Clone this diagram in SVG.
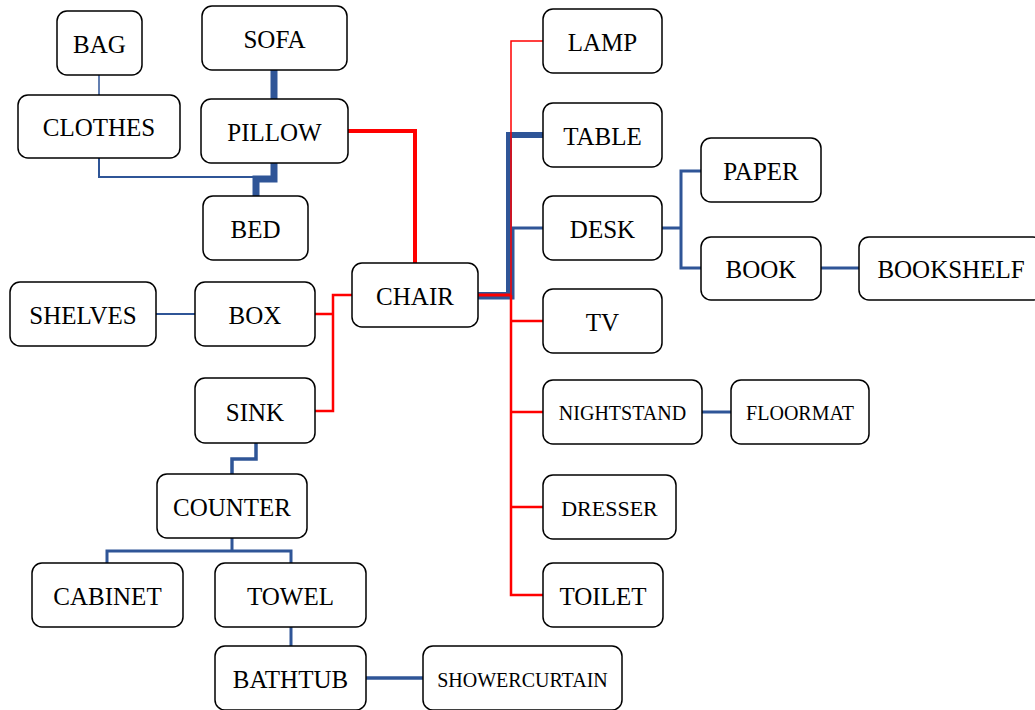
<svg xmlns="http://www.w3.org/2000/svg" width="1035" height="710" viewBox="0 0 1035 710">
  <style>
    .box { fill: #ffffff; stroke: #000000; stroke-width: 1.5; }
    .lbl { font-family: "Liberation Serif", "Times New Roman", serif; font-size: 25px; fill: #000000; text-anchor: middle; }
    .sm { font-size: 20px; }
    .md { font-size: 22px; }
    .b { fill: none; stroke: #2F5597; stroke-linejoin: miter; }
    .r { fill: none; stroke: #FF0000; stroke-linejoin: miter; }
  </style>
  <rect width="1035" height="710" fill="#ffffff"/>

  <g id="connectors">
    <!-- blue links -->
    <path class="b" stroke-width="1.5" d="M99,75 V95"/>
    <path class="b" stroke-width="7" d="M274,70 V99"/>
    <path class="b" stroke-width="2" d="M99,158 V177 H256"/>
    <path class="b" stroke-width="7" d="M274,163 V179 H256 V196"/>
    <path class="b" stroke-width="2" d="M156,314 H195"/>
    <path class="b" stroke-width="3.5" d="M256,443 V459 H232 V474"/>
    <path class="b" stroke-width="3" d="M232,538 V551 M107,563 V551 H291 V563"/>
    <path class="b" stroke-width="3" d="M291,627 V646"/>
    <path class="b" stroke-width="3.5" d="M366,678 H423"/>
    <path class="b" stroke-width="6" d="M478,295 H509 V135 H543"/>
    <path class="b" stroke-width="3" d="M478,298 H513 V228 H543"/>
    <path class="b" stroke-width="3" d="M662,228 H681 M701,171 H681 V268 H701"/>
    <path class="b" stroke-width="3" d="M821,268 H859"/>
    <path class="b" stroke-width="3" d="M702,412 H731"/>
    <!-- red links -->
    <path class="r" stroke-width="4" d="M348,131 H415 V263"/>
    <path class="r" stroke-width="2.5" d="M352,295 H333 V411 H315 M315,314 H333"/>
    <path class="r" stroke-width="1.5" d="M543,41 H511 V295"/>
    <path class="r" stroke-width="3" d="M478,295 H511"/>
    <path class="r" stroke-width="2.5" d="M511,295 V595 H543 M511,321 H543 M511,412 H543 M511,507 H543"/>
  </g>

  <g id="node-bag"><rect class="box" x="57" y="11" width="85" height="64" rx="10"/><text class="lbl" x="99.5" y="53">BAG</text></g>
  <g id="node-sofa"><rect class="box" x="202" y="6" width="145" height="64" rx="10"/><text class="lbl" x="274.5" y="48">SOFA</text></g>
  <g id="node-clothes"><rect class="box" x="18" y="95" width="162" height="63" rx="10"/><text class="lbl" x="99" y="136">CLOTHES</text></g>
  <g id="node-pillow"><rect class="box" x="201" y="99" width="147" height="64" rx="10"/><text class="lbl" x="274.5" y="141">PILLOW</text></g>
  <g id="node-bed"><rect class="box" x="203" y="196" width="105" height="64" rx="10"/><text class="lbl" x="255.5" y="238">BED</text></g>
  <g id="node-chair"><rect class="box" x="352" y="263" width="126" height="64" rx="10"/><text class="lbl" x="415" y="305">CHAIR</text></g>
  <g id="node-lamp"><rect class="box" x="543" y="9" width="119" height="64" rx="10"/><text class="lbl" x="602.5" y="51">LAMP</text></g>
  <g id="node-table"><rect class="box" x="543" y="103" width="119" height="64" rx="10"/><text class="lbl" x="602.5" y="145">TABLE</text></g>
  <g id="node-desk"><rect class="box" x="543" y="196" width="119" height="64" rx="10"/><text class="lbl" x="602.5" y="238">DESK</text></g>
  <g id="node-paper"><rect class="box" x="701" y="138" width="120" height="64" rx="10"/><text class="lbl" x="761" y="180">PAPER</text></g>
  <g id="node-book"><rect class="box" x="701" y="237" width="120" height="63" rx="10"/><text class="lbl" x="761" y="278">BOOK</text></g>
  <g id="node-bookshelf"><rect class="box" x="859" y="237" width="184" height="63" rx="10"/><text class="lbl" x="951" y="278">BOOKSHELF</text></g>
  <g id="node-tv"><rect class="box" x="543" y="289" width="119" height="64" rx="10"/><text class="lbl" x="602.5" y="331">TV</text></g>
  <g id="node-nightstand"><rect class="box" x="543" y="380" width="159" height="64" rx="10"/><text class="lbl sm" x="622.5" y="420">NIGHTSTAND</text></g>
  <g id="node-floormat"><rect class="box" x="731" y="380" width="138" height="64" rx="10"/><text class="lbl sm" x="800" y="420">FLOORMAT</text></g>
  <g id="node-dresser"><rect class="box" x="543" y="475" width="133" height="64" rx="10"/><text class="lbl md" x="609.5" y="516">DRESSER</text></g>
  <g id="node-toilet"><rect class="box" x="543" y="563" width="120" height="64" rx="10"/><text class="lbl" x="603" y="605">TOILET</text></g>
  <g id="node-shelves"><rect class="box" x="10" y="282" width="146" height="64" rx="10"/><text class="lbl" x="83" y="324">SHELVES</text></g>
  <g id="node-box"><rect class="box" x="195" y="282" width="120" height="64" rx="10"/><text class="lbl" x="255" y="324">BOX</text></g>
  <g id="node-sink"><rect class="box" x="195" y="378" width="120" height="65" rx="10"/><text class="lbl" x="255" y="421">SINK</text></g>
  <g id="node-counter"><rect class="box" x="157" y="474" width="150" height="64" rx="10"/><text class="lbl" x="232" y="516">COUNTER</text></g>
  <g id="node-cabinet"><rect class="box" x="32" y="563" width="151" height="64" rx="10"/><text class="lbl" x="107.5" y="605">CABINET</text></g>
  <g id="node-towel"><rect class="box" x="215" y="563" width="151" height="64" rx="10"/><text class="lbl" x="290.5" y="605">TOWEL</text></g>
  <g id="node-bathtub"><rect class="box" x="215" y="646" width="151" height="64" rx="10"/><text class="lbl" x="290.5" y="688">BATHTUB</text></g>
  <g id="node-showercurtain"><rect class="box" x="423" y="646" width="199" height="64" rx="10"/><text class="lbl sm" x="522.5" y="687">SHOWERCURTAIN</text></g>
</svg>
